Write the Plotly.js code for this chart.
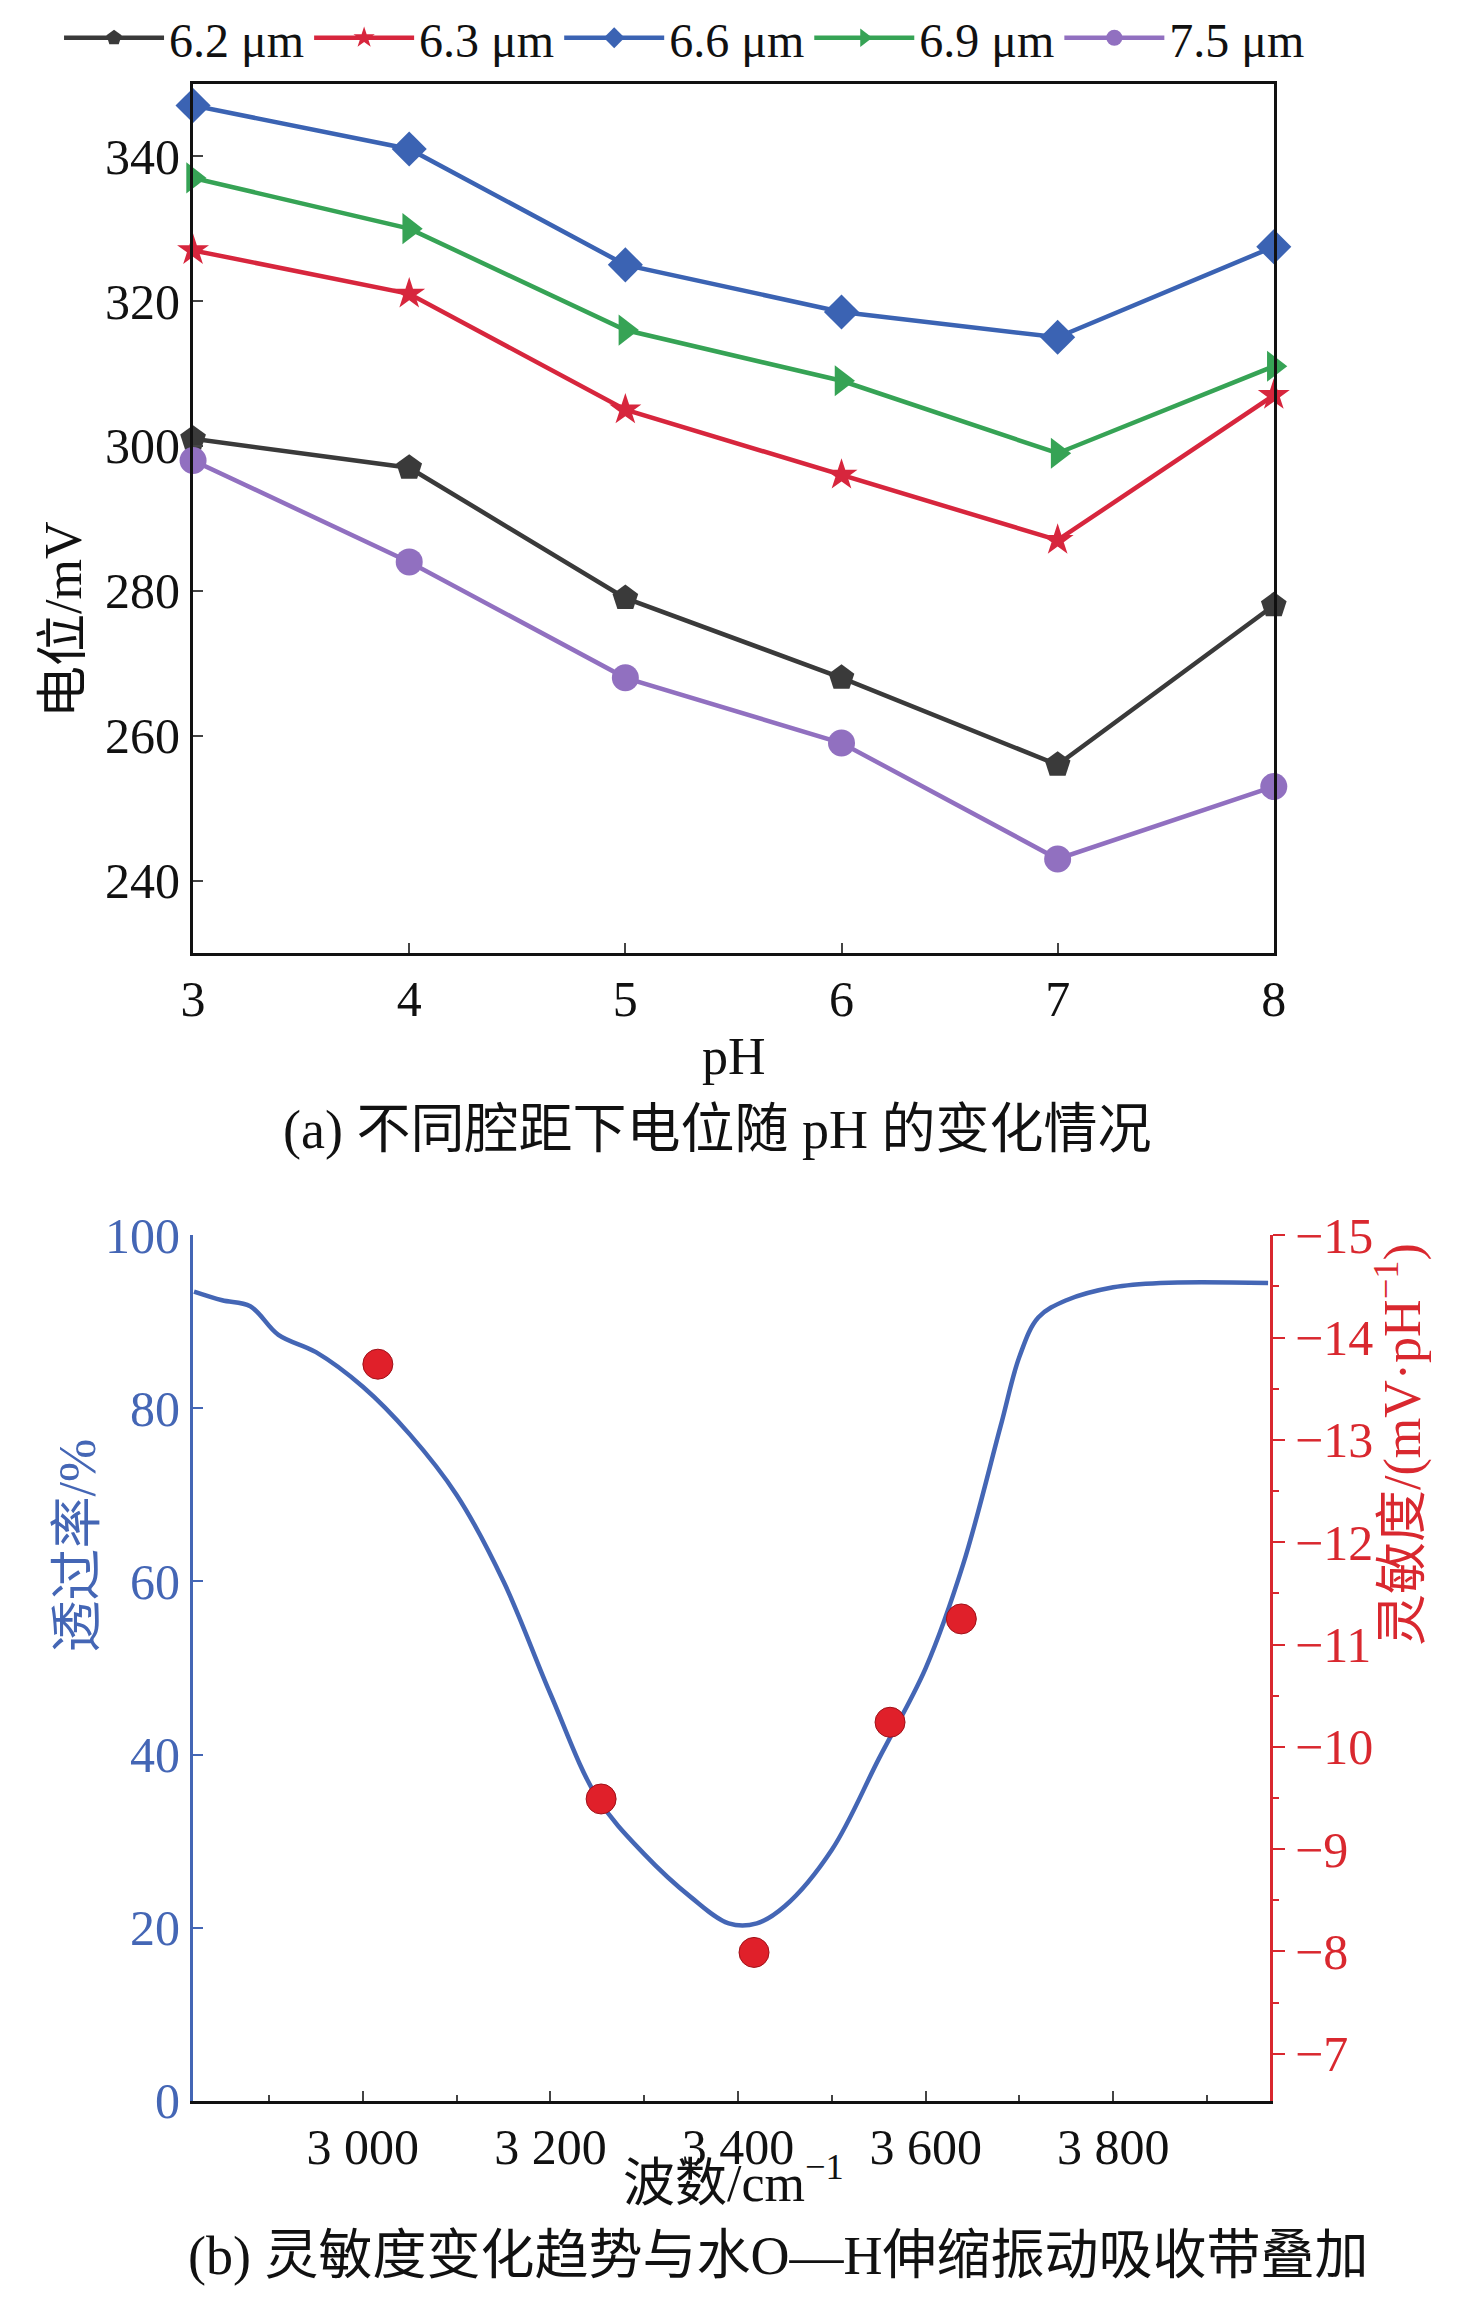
<!DOCTYPE html>
<html><head><meta charset="utf-8">
<script src="https://cdn.plot.ly/plotly-3.0.1.min.js"></script>
<style>html,body{margin:0;padding:0;background:#fff}</style>
</head><body>
<div id="chart" style="width:1476px;height:2318px"></div>
<script>
// (a) potential vs pH
const pH = [3, 4, 5, 6, 7, 8];
const gapNames = ["6.2 μm", "6.3 μm", "6.6 μm", "6.9 μm", "7.5 μm"];
const pot62 = [301, 297, 279, 268, 256, 278];
const pot63 = [327, 321, 305, 296, 287, 307];
const pot66 = [347, 341, 325, 318.5, 315, 327.5];
const pot69 = [337, 330, 316, 309, 299, 311];
const pot75 = [298, 284, 268, 259, 243, 253];

// (b) transmittance and sensitivity
const wave = [2820, 2850, 2880, 2910, 2950, 3000, 3050, 3100, 3150, 3200, 3250, 3300, 3350, 3390, 3420, 3450, 3500, 3550, 3600, 3640, 3680, 3700, 3720, 3750, 3800, 3850, 3965];
const trans = [93.5, 92.5, 91.8, 88.5, 86.5, 82.5, 77, 70, 60, 47, 35, 28.5, 23.5, 20.5, 20.5, 22.5, 29, 39.5, 50, 62, 78, 86, 90.5, 92.5, 94, 94.5, 94.5];
const sensX = [3016, 3254, 3417, 3562, 3638];
const sensY = [-13.74, -9.49, -7.99, -10.24, -11.25];

const serif = "Liberation Serif, Noto Sans CJK SC, serif";
const cols = ["#3a3a3a", "#d7263d", "#3b63b3", "#36a355", "#9170c0"];
const syms = ["pentagon", "star", "diamond", "triangle-right", "circle"];
const series = [pot62, pot63, pot66, pot69, pot75];

const traces = series.map((ys, i) => ({
  type: "scatter", mode: "lines+markers", name: gapNames[i], x: pH, y: ys,
  xaxis: "x", yaxis: "y", cliponaxis: false,
  line: {color: cols[i], width: 4.5},
  marker: {symbol: syms[i], size: i === 1 ? 24 : 27, color: cols[i], line: {width: 0}}
}));
traces.push({
  type: "scatter", mode: "lines", x: wave, y: trans, xaxis: "x2", yaxis: "y2",
  line: {color: "#4466b5", width: 4.5, shape: "spline", smoothing: 1}, showlegend: false
});
traces.push({
  type: "scatter", mode: "markers", x: sensX, y: sensY, xaxis: "x2", yaxis: "y3", cliponaxis: false,
  marker: {size: 30, color: "#e0202a", line: {color: "#a01018", width: 1}}, showlegend: false
});

const tf = {family: serif, size: 50, color: "#111"};
const layout = {
  width: 1476, height: 2318, margin: {l: 0, r: 0, t: 0, b: 0},
  paper_bgcolor: "#fff", plot_bgcolor: "#fff",
  font: {family: serif},
  showlegend: true,
  legend: {orientation: "h", x: 0.04, y: 1.003, xanchor: "left", yanchor: "top",
    font: {family: serif, size: 48, color: "#111"}, itemwidth: 100, tracegroupgap: 0,
    bgcolor: "rgba(0,0,0,0)"},
  xaxis: {domain: [0.1308, 0.863], anchor: "y", range: [3, 8], tickvals: pH,
    ticks: "inside", ticklen: 10, tickwidth: 2, showline: true, linewidth: 3, linecolor: "#111",
    mirror: true, showgrid: false, zeroline: false, tickfont: tf},
  yaxis: {domain: [0.5906, 0.9668], anchor: "x", range: [230, 350], tickvals: [240, 260, 280, 300, 320, 340],
    ticks: "inside", ticklen: 10, tickwidth: 2, showline: true, linewidth: 3, linecolor: "#111",
    mirror: true, showgrid: false, zeroline: false, tickfont: tf},
  xaxis2: {domain: [0.1308, 0.8604], anchor: "y2", range: [2819, 3967],
    tickvals: [3000, 3200, 3400, 3600, 3800], ticktext: ["3 000", "3 200", "3 400", "3 600", "3 800"],
    ticks: "inside", ticklen: 10, tickwidth: 2, showline: true, linewidth: 3, linecolor: "#111",
    minor: {tickvals: [2900, 3100, 3300, 3500, 3700, 3900], ticks: "inside", ticklen: 6},
    showgrid: false, zeroline: false, tickfont: tf},
  yaxis2: {domain: [0.094, 0.4685], anchor: "x2", range: [0, 100], tickvals: [0, 20, 40, 60, 80, 100],
    ticks: "inside", ticklen: 10, tickwidth: 2, tickcolor: "#4466b5", showline: true, linewidth: 3,
    linecolor: "#4466b5", showgrid: false, zeroline: false,
    tickfont: {family: serif, size: 50, color: "#4466b5"}},
  yaxis3: {domain: [0.094, 0.4685], anchor: "x2", overlaying: "y2", side: "right",
    range: [-6.54, -15], tickvals: [-15, -14, -13, -12, -11, -10, -9, -8, -7],
    ticktext: ["−15", "−14", "−13", "−12", "−11", "−10", "−9", "−8", "−7"],
    ticks: "outside", ticklen: 12, tickwidth: 2, tickcolor: "#d9282f", showline: true, linewidth: 3,
    linecolor: "#d9282f", showgrid: false, zeroline: false,
    minor: {dtick: 0.5, tick0: -15, ticks: "outside", ticklen: 6, tickcolor: "#d9282f"},
    tickfont: {family: serif, size: 50, color: "#d9282f"}},
  annotations: [
    {text: "电位/mV", xref: "paper", yref: "paper", x: 0.022, y: 0.778, textangle: -90,
      showarrow: false, font: {family: serif, size: 52, color: "#111"}},
    {text: "pH", xref: "paper", yref: "paper", x: 0.497, y: 0.546, showarrow: false,
      font: {family: serif, size: 52, color: "#111"}},
    {text: "(a) 不同腔距下电位随 pH 的变化情况", xref: "paper", yref: "paper", x: 0.486, y: 0.514,
      showarrow: false, font: {family: serif, size: 54, color: "#111"}},
    {text: "透过率/%", xref: "paper", yref: "paper", x: 0.032, y: 0.287, textangle: -90,
      showarrow: false, font: {family: serif, size: 52, color: "#4466b5"}},
    {text: "灵敏度/(mV·pH<sup>−1</sup>)", xref: "paper", yref: "paper", x: 0.972, y: 0.29, textangle: -90,
      showarrow: false, font: {family: serif, size: 52, color: "#d9282f"}},
    {text: "波数/cm<sup>−1</sup>", xref: "paper", yref: "paper", x: 0.497, y: 0.045, showarrow: false,
      font: {family: serif, size: 52, color: "#111"}},
    {text: "(b) 灵敏度变化趋势与水O—H伸缩振动吸收带叠加", xref: "paper", yref: "paper", x: 0.527, y: 0.013,
      showarrow: false, font: {family: serif, size: 54, color: "#111"}}
  ]
};
Plotly.newPlot("chart", traces, layout, {staticPlot: true});
</script>
</body></html>
